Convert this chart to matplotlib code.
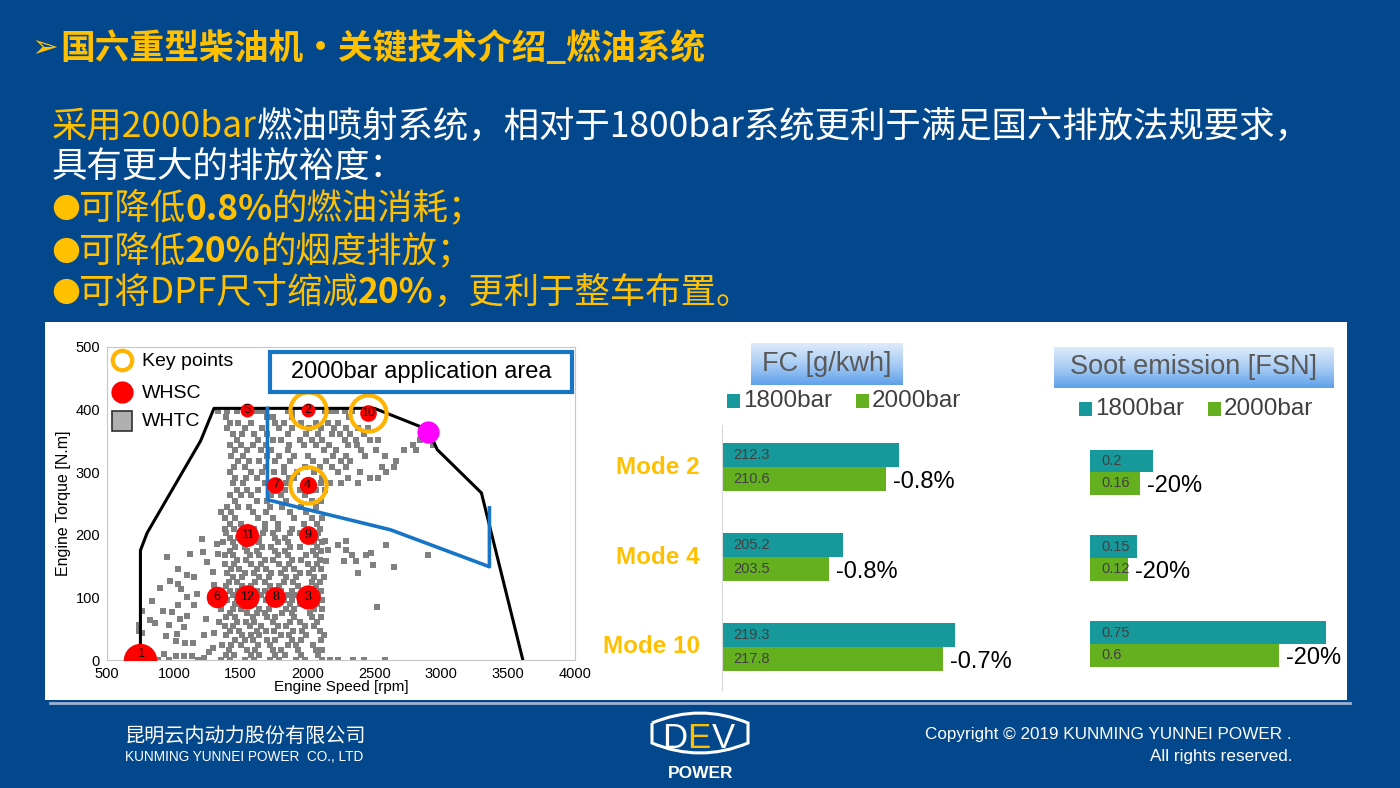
import matplotlib
matplotlib.use("Agg")
import matplotlib.pyplot as plt
import numpy as np
from matplotlib.patches import Rectangle, PathPatch
from matplotlib.path import Path
from matplotlib.colors import LinearSegmentedColormap

W, H = 1400, 788
CJK = ['Noto Sans CJK SC', 'DejaVu Sans']
LAT = ['Liberation Sans', 'DejaVu Sans']
plt.rcParams['font.family'] = CJK

BG = '#03488C'
YEL = '#FFC000'
TEAL = '#17999B'
GREEN = '#64B01E'
GREY_TXT = '#404040'

# ---------------- texts ----------------
title_txt = '国六重型柴油机・关键技术介绍_燃油系统'
footer_cn = '昆明云内动力股份有限公司'
footer_en = 'KUNMING YUNNEI POWER  CO., LTD'
copy_1 = 'Copyright © 2019 KUNMING YUNNEI POWER .'
copy_2 = 'All rights reserved.'

# ---------------- engine map data ----------------
full_load_rpm = [750, 750, 800, 1200, 1300, 2500, 2900, 2970, 3300, 3610]
full_load_nm = [0, 175, 203, 350, 402, 402, 368, 336, 267, 0]
area_rpm = [1700, 1700, 2620, 3360, 3360]
area_nm = [402, 256, 208, 149, 243]
rated_rpm, rated_nm = 2900, 365

whsc_no = [1, 2, 3, 4, 5, 6, 7, 8, 9, 10, 11, 12]
whsc_rpm = [750, 2000, 2000, 2000, 1550, 1320, 1760, 1760, 2000, 2450, 1550, 1550]
whsc_nm = [0, 400, 100, 280, 400, 100, 280, 100, 200, 395, 200, 100]
whsc_ms = [24, 10, 17.5, 12.5, 10, 15.5, 12, 15, 13.5, 12, 16.5, 17.5]
key_modes = [2, 4, 10]

# WHTC operating points, read row by row (torque, speeds)
whtc_rows = [
    (0, [830, 880, 960, 1180, 1350, 1420, 1530, 1600, 1720, 1790, 1910,
         1980, 2110, 2170, 2230, 2340, 2420, 2580]),
    (8, [1390, 1450, 1580, 1640, 1760, 1830, 1950, 2080]),
    (16, [1410, 1550, 1610, 1740, 1800, 1930, 2060, 2110]),
    (24, [1430, 1500, 1630, 1720, 1850, 1910, 2040]),
    (32, [1460, 1530, 1590, 1700, 1760, 1880, 1950, 2100]),
    (40, [1390, 1510, 1580, 1640, 1800, 1860, 1990, 2120]),
    (47, [1420, 1490, 1620, 1690, 1750, 1890, 1960, 2090]),
    (54, [1380, 1440, 1570, 1650, 1780, 1840, 1980, 2050]),
    (61, [1470, 1540, 1600, 1740, 1870, 1940, 2070]),
    (68, [1390, 1460, 1590, 1700, 1760, 1900, 2030, 2100]),
    (75, [1420, 1550, 1620, 1680, 1810, 1880, 2020]),
    (82, [1350, 1440, 1500, 1640, 1710, 1840, 1900, 2050, 2110]),
    (89, [1460, 1530, 1600, 1730, 1870, 1940, 2070]),
    (96, [1400, 1470, 1690, 1820, 1880, 2110]),
    (104, [1440, 1650, 1850, 1900, 2080]),
    (111, [1420, 1480, 1620, 1680, 1800, 1880, 2050, 2100]),
    (118, [1390, 1510, 1580, 1720, 1790, 1930, 2060]),
    (125, [1410, 1470, 1610, 1680, 1820, 1890, 2030, 2090]),
    (132, [1440, 1510, 1640, 1710, 1840, 1910, 2050, 2120]),
    (139, [1400, 1530, 1600, 1730, 1800, 1940, 2010]),
    (146, [1430, 1490, 1620, 1690, 1830, 1900, 2040, 2100]),
    (153, [1380, 1450, 1580, 1650, 1790, 1860, 2000, 2070]),
    (160, [1470, 1540, 1680, 1740, 1880, 1950, 2090]),
    (167, [1380, 1440, 1570, 1640, 1780, 1850, 1990, 2060]),
    (174, [1420, 1550, 1620, 1760, 1830, 2040, 2100]),
    (181, [1460, 1530, 1660, 1730, 1870, 1940, 2070]),
    (188, [1370, 1440, 1580, 1640, 1780, 1850, 2050, 2110]),
    (195, [1420, 1480, 1640, 1760, 1830, 2060]),
    (203, [1390, 1670, 1740, 1870, 1940, 2080]),
    (210, [1380, 1450, 1600, 1680, 1780, 1880, 2090]),
    (218, [1420, 1500, 1680, 1780, 1970, 2070]),
    (227, [1380, 1460, 1630, 1740, 1900, 2030, 2110]),
    (236, [1350, 1430, 1590, 1690, 1870, 1990]),
    (245, [1400, 1480, 1560, 1720, 1810, 1950, 2060]),
    (254, [1460, 1620, 1700, 1840, 2030, 2100]),
    (263, [1420, 1500, 1580, 1730, 1800, 1980]),
    (272, [1470, 1550, 1630, 1830, 1940, 2060, 2130]),
    (282, [1440, 1520, 1680, 1840, 2100, 2170, 2250, 2380]),
    (291, [1460, 1540, 1620, 1860, 1900, 2110, 2300, 2470, 2530]),
    (300, [1420, 1580, 1660, 1750, 1820, 1920, 2050, 2230, 2390, 2590]),
    (309, [1450, 1530, 1690, 1820, 1980, 2090, 2180, 2290, 2560, 2650]),
    (318, [1480, 1560, 1640, 1760, 1870, 2040, 2140, 2250, 2320, 2660]),
    (326, [1430, 1520, 1700, 1790, 1900, 2000, 2190, 2290, 2430, 2580]),
    (335, [1460, 1550, 1650, 1730, 1850, 2120, 2210, 2400, 2510, 2720, 2810]),
    (343, [1420, 1500, 1590, 1690, 1860, 1970, 2060, 2160, 2300, 2370, 2790, 2940]),
    (352, [1470, 1630, 1740, 1800, 1940, 2030, 2110, 2280, 2360, 2470, 2530, 2840]),
    (361, [1440, 1510, 1600, 1700, 1850, 1990, 2080, 2180, 2240, 2320, 2420, 2870]),
    (370, [1400, 1530, 1660, 1790, 1880, 2010, 2100, 2200, 2290, 2380, 2450]),
    (378, [1420, 1480, 1580, 1760, 1820, 1950, 2060, 2150, 2230]),
    (388, [1390, 1700, 1740, 1880, 2310]),
    (398, [1330, 1400, 1470, 1610, 1650, 1690, 1850, 1880, 2130, 2170, 2210, 2280, 2330]),
    (190, [2130, 2290]), (184, [2230, 2590]), (176, [2150, 2290]),
    (168, [2330, 2440, 2900]), (171, [2475]), (158, [2140, 2270, 2360]),
    (152, [2490]), (149, [2650]), (139, [2380]), (85, [2520]),
]
whtc_left = [
    (1210, 193), (949, 164), (1121, 169), (1218, 172), (1248, 157), (1031, 145), (1098, 136),
    (1151, 133), (971, 126), (1031, 121), (896, 115), (1053, 113), (1098, 101), (1173, 105),
    (837, 94), (1031, 88), (1151, 88), (919, 78), (986, 77), (1098, 70), (1046, 65), (1240, 65),
    (762, 78), (822, 64), (859, 59), (964, 56), (1076, 53), (739, 56), (739, 46), (762, 43),
    (941, 38), (1023, 42), (1225, 40), (1300, 43), (1083, 27), (1143, 27), (1016, 30),
    (1293, 19), (1360, 24), (1263, 13), (926, 10), (1016, 6), (1076, 6), (1136, 6), (1225, 3),
    (1290, 140), (1330, 170), (1300, 120), (1340, 60), (1320, 185), (1280, 95),
]

# ---------------- bar chart data ----------------
modes = ['Mode 2', 'Mode 4', 'Mode 10']
fc_1800 = [212.3, 205.2, 219.3]
fc_2000 = [210.6, 203.5, 217.8]
fc_delta = ['-0.8%', '-0.8%', '-0.7%']
soot_1800 = [0.2, 0.15, 0.75]
soot_2000 = [0.16, 0.12, 0.6]
soot_delta = ['-20%', '-20%', '-20%']


def fx(px):
    return px / W


def fy(py):
    return 1 - py / H


def rect_px(l, t, r, b, color, z=1):
    fig.add_artist(Rectangle((fx(l), fy(b)), (r - l) / W, (b - t) / H,
                             transform=fig.transFigure, facecolor=color,
                             edgecolor='none', zorder=z))


fig = plt.figure(figsize=(14, 7.88), dpi=100)
fig.patch.set_facecolor(BG)
renderer = fig.canvas.get_renderer()

# white panel + footer rule
rect_px(45, 322, 1347, 700, 'white', z=0)
fig.add_artist(plt.Line2D([fx(50), fx(1350)], [fy(703), fy(703)], color='#9DB2D2',
                          lw=2, transform=fig.transFigure))

# ---------------- title and body text ----------------
fig.text(fx(31), fy(49), '➢', color=YEL, fontsize=23, family=['DejaVu Sans'],
         va='center', ha='left')
fig.text(fx(60), fy(48), title_txt, color=YEL, fontsize=25, fontweight='bold',
         va='center', ha='left')


def runs(x, y, parts, size=25.5):
    for s, color, weight in parts:
        t = fig.text(fx(x), fy(y), s, color=color, fontsize=size, fontweight=weight,
                     va='center', ha='left', family=CJK)
        x += t.get_window_extent(renderer).width


def bullet(y, parts):
    fig.text(fx(66), fy(y - 3), '●', color=YEL, fontsize=24, family=['DejaVu Sans'],
             va='center', ha='center')
    runs(79, y, parts)


runs(52, 127, [('采用2000bar', YEL, 'normal'),
               ('燃油喷射系统，相对于1800bar系统更利于满足国六排放法规要求，', 'white', 'normal')])
runs(52, 168, [('具有更大的排放裕度：', 'white', 'normal')])
bullet(209, [('可降低', YEL, 'normal'), ('0.8%', YEL, 'bold'), ('的燃油消耗；', YEL, 'normal')])
bullet(252, [('可降低', YEL, 'normal'), ('20%', YEL, 'bold'), ('的烟度排放；', YEL, 'normal')])
bullet(293, [('可将DPF尺寸缩减', YEL, 'normal'), ('20%', YEL, 'bold'),
             ('，更利于整车布置。', YEL, 'normal')])

# ---------------- engine map ----------------
ax = fig.add_axes([fx(107), fy(660), 468 / W, 313 / H])
wx = [r for nm, rl in whtc_rows for r in rl] + [p[0] for p in whtc_left]
wy = [nm for nm, rl in whtc_rows for r in rl] + [p[1] for p in whtc_left]
ax.plot(wx, wy, 's', color='#808080', ms=3.8, mew=0, zorder=1)
ax.plot(full_load_rpm, full_load_nm, color='black', lw=2.2, zorder=2)
ax.plot(area_rpm, area_nm, color='#1874C4', lw=2.6, zorder=3)
ax.plot(rated_rpm, rated_nm, 'o', color='#FF00FF', ms=16, mew=0, zorder=3)
for n, r, t, s in zip(whsc_no, whsc_rpm, whsc_nm, whsc_ms):
    ax.plot(r, t, 'o', color='#FF0000', ms=s, mew=0, zorder=4)
    ax.text(r, t + (9 if n == 1 else 0), str(n), fontsize=9, family=LAT,
            ha='center', va='center', zorder=5)
for k in key_modes:
    i = whsc_no.index(k)
    ax.plot(whsc_rpm[i], whsc_nm[i], 'o', mfc='none', mec='#FFB400', ms=26, mew=3, zorder=6)

ax.set_xlim(500, 4000)
ax.set_ylim(0, 500)
ax.set_xticks(range(500, 4001, 500))
ax.set_yticks(range(0, 501, 100))
ax.tick_params(length=0, labelsize=10.5)
ax.tick_params(axis='x', pad=5)
ax.tick_params(axis='y', pad=5)
for lab in ax.get_xticklabels() + ax.get_yticklabels():
    lab.set_family(LAT)
for sp in ax.spines.values():
    sp.set_color('#C8C8C8')
ax.set_xlabel('Engine Speed [rpm]', fontsize=11, family=LAT, labelpad=-1)
ax.set_ylabel('Engine Torque [N.m]', fontsize=11.5, family=LAT, labelpad=3)

# legend drawn by hand
ax.plot(0.032, 0.958, 'o', mfc='none', mec='#FFB400', ms=14, mew=3, transform=ax.transAxes,
        clip_on=False, zorder=7)
ax.plot(0.032, 0.856, 'o', color='#FF0000', ms=16, mew=0, transform=ax.transAxes,
        clip_on=False, zorder=7)
ax.plot(0.032, 0.764, 's', mfc='#B0B0B0', mec='#303030', ms=14, mew=1.2,
        transform=ax.transAxes, clip_on=False, zorder=7)
for yy, s in zip([0.955, 0.853, 0.761], ['Key points', 'WHSC', 'WHTC']):
    ax.text(0.075, yy, s, fontsize=14, family=LAT, transform=ax.transAxes,
            va='center', ha='left', zorder=7)
ax.add_patch(Rectangle((0.348, 0.856), 0.646, 0.128, transform=ax.transAxes,
                       facecolor='white', edgecolor='#1874C4', lw=3, zorder=7))
ax.text(0.671, 0.92, '2000bar application area', fontsize=17, family=LAT,
        transform=ax.transAxes, ha='center', va='center', zorder=8)

# ---------------- bar charts ----------------
hb = 0.262
pos = np.arange(len(modes))


def bar_panel(l, r, xlim, ylim, v18, v20, deltas, show_axis):
    a = fig.add_axes([fx(l), fy(690), (r - l) / W, 265 / H])
    a.barh(pos - hb / 2, v18, height=hb, color=TEAL, zorder=2)
    a.barh(pos + hb / 2, v20, height=hb, color=GREEN, zorder=2)
    a.set_xlim(*xlim)
    a.set_ylim(*ylim)
    a.set_xticks([])
    a.set_yticks([])
    for name, sp in a.spines.items():
        sp.set_visible(name == 'left' and show_axis)
    a.spines['left'].set_color('#D9D9D9')
    a.patch.set_alpha(0)
    for i in range(len(modes)):
        for v, off in ((v18[i], -hb / 2), (v20[i], hb / 2)):
            a.annotate(str(v), (xlim[0], pos[i] + off), xytext=(8, 0),
                       textcoords='offset points', fontsize=10.5, color=GREY_TXT,
                       family=LAT, va='center', ha='left', zorder=3)
        a.annotate(deltas[i], (v20[i], pos[i] + hb / 2), xytext=(5, -2),
                   textcoords='offset points', fontsize=17, color='black',
                   family=LAT, va='center', ha='left', annotation_clip=False)
    return a


ax_fc = bar_panel(722, 1000, (190, 225), (2.478, -0.467), fc_1800, fc_2000, fc_delta, True)
ax_soot = bar_panel(1090, 1345, (0, 0.81), (2.535, -0.547), soot_1800, soot_2000,
                    soot_delta, False)
for i, m in enumerate(modes):
    ax_fc.text(-0.079, pos[i], m, transform=ax_fc.get_yaxis_transform(), ha='right',
               va='center', fontsize=17.5, fontweight='bold', color=YEL, family=LAT)

# gradient title boxes
grad_cmap = LinearSegmentedColormap.from_list('g', ['#DDEBFB', '#A9CCF4', '#5EA1EA'])


def title_box(l, t, r, b, s):
    g = fig.add_axes([fx(l), fy(b), (r - l) / W, (b - t) / H])
    g.imshow(np.linspace(0, 1, 64)[:, None], aspect='auto', cmap=grad_cmap,
             extent=[0, 1, 0, 1])
    g.axis('off')
    g.text(0.5, 0.5, s, fontsize=19.5, color='#595959', family=LAT, ha='center',
           va='center', transform=g.transAxes)


title_box(751, 343, 903, 385, 'FC [g/kwh]')
title_box(1054, 347, 1334, 388, 'Soot emission [FSN]')

# bar legends
for sq_l, y, lab in [(727, 401, '1800bar'), (856, 401, '2000bar'),
                     (1079, 409, '1800bar'), (1208, 409, '2000bar')]:
    rect_px(sq_l, y - 7, sq_l + 13, y + 7, TEAL if lab == '1800bar' else GREEN, z=3)
    fig.text(fx(sq_l + 16), fy(y), lab, fontsize=17.5, color=GREY_TXT, family=LAT,
             va='center', ha='left')

# ---------------- footer ----------------
fig.text(fx(125), fy(737), footer_cn, fontsize=14.5, color='white', va='center', ha='left')
fig.text(fx(125), fy(757), footer_en, fontsize=9.8, color='white', family=LAT,
         va='center', ha='left')
fig.text(fx(1292), fy(735), copy_1, fontsize=12.3, color='white', family=LAT,
         va='center', ha='right')
fig.text(fx(1292), fy(757), copy_2, fontsize=12.3, color='white', family=LAT,
         va='center', ha='right')

verts = [(652, 723), (652, 743), (700, 763), (748, 743), (748, 723), (700, 703), (652, 723)]
codes = [Path.MOVETO, Path.LINETO, Path.CURVE3, Path.CURVE3, Path.LINETO, Path.CURVE3,
         Path.CURVE3]
logo = Path([(fx(x), fy(y)) for x, y in verts], codes)
fig.add_artist(PathPatch(logo, facecolor='none', edgecolor='white', lw=2.2,
                         transform=fig.transFigure))
for cx, ch, col in [(675, 'D', 'white'), (699, 'E', YEL), (723, 'V', 'white')]:
    fig.text(fx(cx), fy(738), ch, fontsize=25, color=col, family=LAT,
             ha='center', va='center')
fig.text(fx(701), fy(773), 'POWER', fontsize=12.5, color='white', fontweight='bold',
         family=LAT, ha='center', va='center')

fig.savefig('out.png', dpi=100, facecolor=fig.get_facecolor())
